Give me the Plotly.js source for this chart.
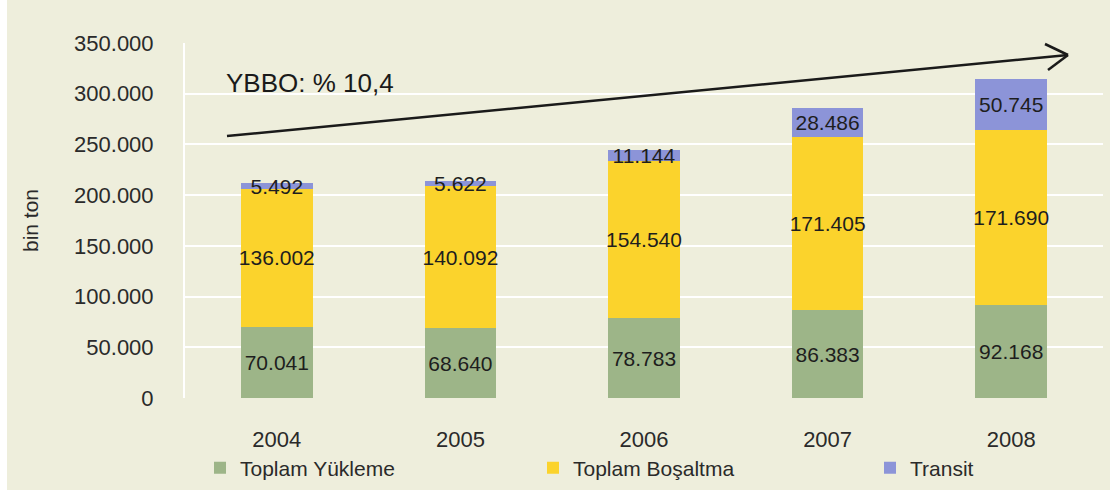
<!DOCTYPE html>
<html>
<head>
<meta charset="utf-8">
<script src="https://cdn.plot.ly/plotly-3.0.1.min.js"></script>
<style>html,body{margin:0;padding:0;background:#eeeedc;}#chart{width:1110px;height:490px;}</style>
</head>
<body>
<div id="chart"></div>
<script>
var years = ["2004", "2005", "2006", "2007", "2008"];
var yukleme = [70041, 68640, 78783, 86383, 92168];
var bosaltma = [136002, 140092, 154540, 171405, 171690];
var transit = [5492, 5622, 11144, 28486, 50745];
var seriesNames = ["Toplam Yükleme", "Toplam Boşaltma", "Transit"];
var yTitle = "bin ton";
var growthText = "YBBO: % 10,4";

var FONT = "Liberation Sans, Arial, sans-serif";
function mk(name, vals, color, leg) {
  return {
    type: "bar", name: name, x: years, y: vals, legend: leg,
    marker: {color: color, line: {width: 0}},
    texttemplate: "%{y:,}", textposition: "inside", insidetextanchor: "middle",
    constraintext: "none", textangle: 0,
    textfont: {family: FONT, size: 21, color: "#1e1e1e"},
    hoverinfo: "skip"
  };
}
var data = [
  mk(seriesNames[0], yukleme, "#9db588", "legend"),
  mk(seriesNames[1], bosaltma, "#fbd32c", "legend2"),
  mk(seriesNames[2], transit, "#8c94d8", "legend3")
];

var L = 185, T = 43, W = 1110 - 185 - 7, H = 398 - 43;
function px(x) { return (x - L) / W; }
function py(y) { return (398 - y) / H; }
var shapes = [
  {type: "line", xref: "paper", yref: "paper", x0: px(227), y0: py(136), x1: px(1068), y1: py(55), line: {color: "#1a1a1a", width: 2.5}},
  {type: "line", xref: "paper", yref: "paper", x0: px(1045), y0: py(44), x1: px(1068), y1: py(55), line: {color: "#1a1a1a", width: 2.5}},
  {type: "line", xref: "paper", yref: "paper", x0: px(1048), y0: py(70), x1: px(1068), y1: py(55), line: {color: "#1a1a1a", width: 2.5}},
  {type: "rect", xref: "paper", yref: "paper", x0: px(0), x1: px(7), y0: py(490), y1: py(0), fillcolor: "#ffffff", line: {width: 0}, layer: "below"}
];

function leg(x) {
  return {
    orientation: "h", xref: "container", x: x / 1110, xanchor: "left",
    yref: "container", y: (490 - 468) / 490, yanchor: "middle",
    bgcolor: "rgba(0,0,0,0)", itemwidth: 30,
    font: {family: FONT, size: 21, color: "#2a2a2a"}
  };
}

var layout = {
  width: 1110, height: 490,
  separators: ",.",
  paper_bgcolor: "#eeeedc", plot_bgcolor: "#eeeedc",
  margin: {l: L, r: 7, t: T, b: 92, pad: 0, autoexpand: false},
  barmode: "stack", bargap: 0.61,
  font: {family: FONT, size: 21, color: "#2a2a2a"},
  xaxis: {
    type: "category", showgrid: false, zeroline: false, showline: false, automargin: false,
    ticks: "", ticklabelstandoff: 26,
    tickfont: {family: FONT, size: 22, color: "#2a2a2a"}
  },
  yaxis: {
    range: [0, 350000], dtick: 50000, tickformat: ",", automargin: false,
    showgrid: true, gridcolor: "#ffffff", gridwidth: 2,
    zeroline: false, showline: true, linecolor: "#ffffff", linewidth: 2,
    ticks: "", ticklabelstandoff: 25,
    tickfont: {family: FONT, size: 22, color: "#2a2a2a"},
    title: {text: yTitle, standoff: 30, font: {family: FONT, size: 21, color: "#2a2a2a"}}
  },
  legend: leg(200),
  legend2: leg(533),
  legend3: leg(870),
  showlegend: true,
  shapes: shapes,
  annotations: [
    {xref: "paper", yref: "paper", x: px(224), y: py(83), xanchor: "left", yanchor: "middle",
     text: growthText, showarrow: false, font: {family: FONT, size: 26, color: "#1a1a1a"}}
  ]
};
Plotly.newPlot("chart", data, layout, {displayModeBar: false, staticPlot: true});
</script>
</body>
</html>
